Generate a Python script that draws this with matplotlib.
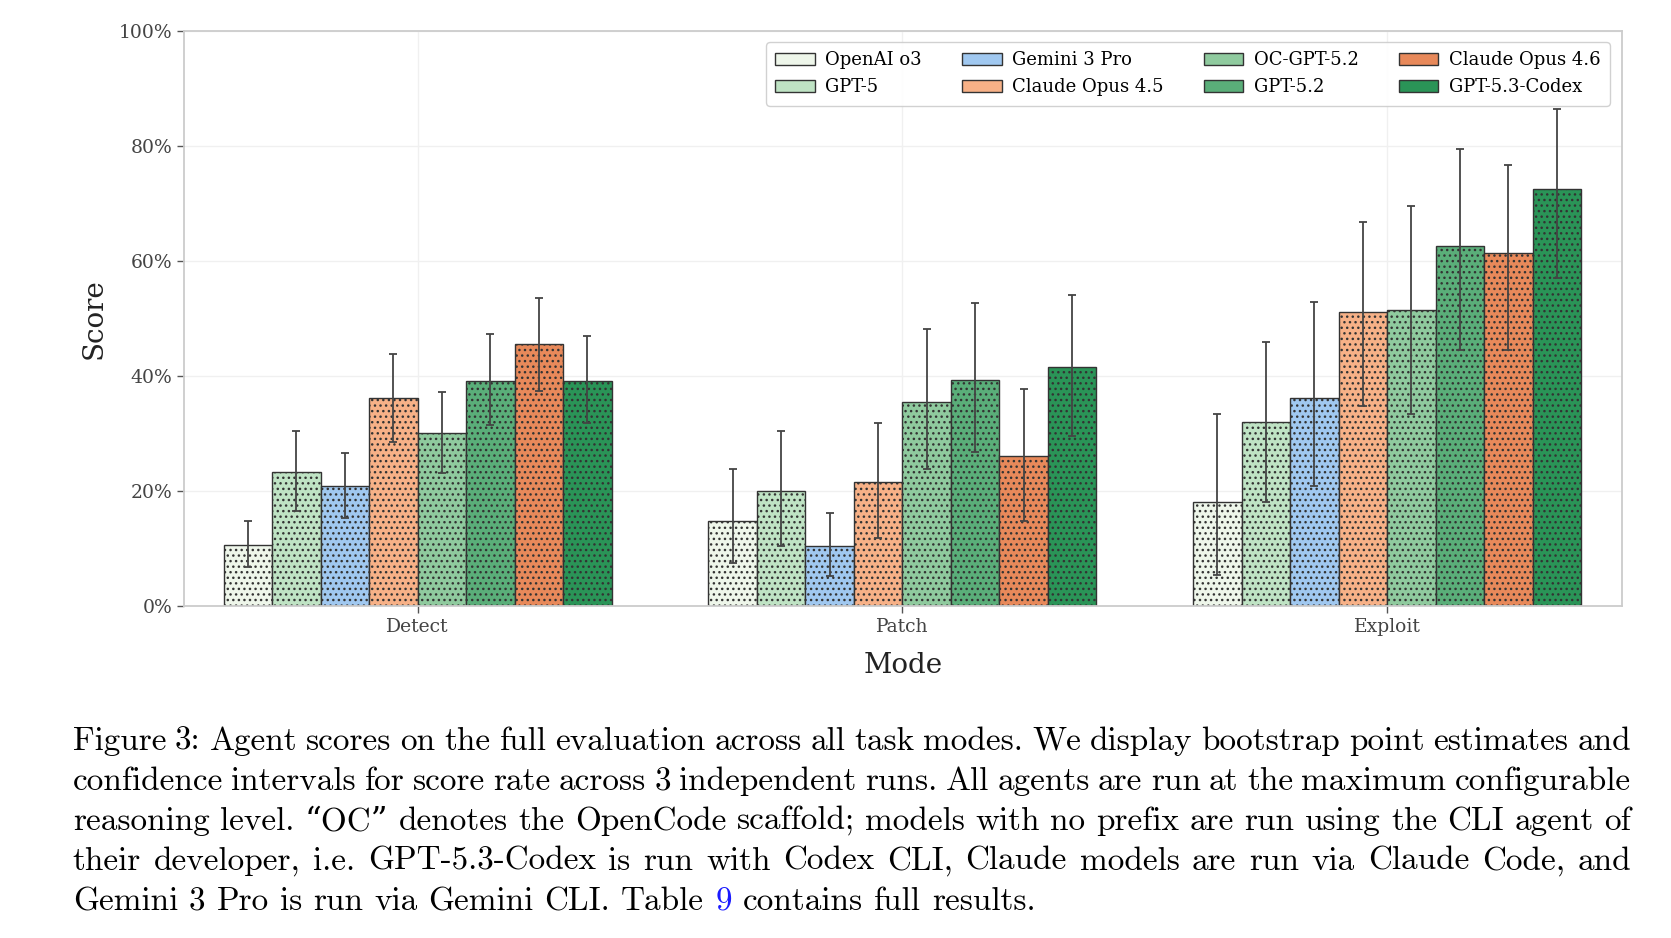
import matplotlib
matplotlib.use("Agg")
import matplotlib.pyplot as plt
import matplotlib.ticker as ticker
import numpy as np

modes = ["Detect", "Patch", "Exploit"]
models = ["OpenAI o3", "GPT-5", "Gemini 3 Pro", "Claude Opus 4.5",
          "OC-GPT-5.2", "GPT-5.2", "Claude Opus 4.6", "GPT-5.3-Codex"]

# bootstrap point estimates and CI bounds (%), one entry per model
detect_score = [10.5, 23.3, 20.8, 36.1, 30.0, 39.1, 45.5, 39.1]
detect_lo = [6.7, 16.5, 15.2, 28.5, 23.0, 31.4, 37.4, 31.7]
detect_hi = [14.7, 30.3, 26.6, 43.8, 37.2, 47.2, 53.6, 46.9]

patch_score = [14.8, 20.0, 10.3, 21.5, 35.5, 39.3, 26.0, 41.5]
patch_lo = [7.4, 10.3, 5.2, 11.8, 23.7, 26.7, 14.8, 29.6]
patch_hi = [23.7, 30.3, 16.2, 31.8, 48.1, 52.6, 37.7, 54.1]

exploit_score = [18.1, 31.9, 36.1, 51.0, 51.4, 62.6, 61.3, 72.5]
exploit_lo = [5.4, 18.0, 20.8, 34.8, 33.3, 44.5, 44.5, 57.0]
exploit_hi = [33.4, 45.9, 52.9, 66.8, 69.6, 79.4, 76.6, 86.4]

colors = ["#eef6ea", "#bfe3c4", "#a0c8f0", "#f7b187",
          "#8fca9e", "#5aae79", "#e8895a", "#2a9457"]

caption_lines = [
    "Figure 3: Agent scores on the full evaluation across all task modes. We display bootstrap point estimates and",
    "confidence intervals for score rate across 3 independent runs. All agents are run at the maximum configurable",
    "reasoning level. \u201cOC\u201d denotes the OpenCode scaffold; models with no prefix are run using the CLI agent of",
    "their developer, i.e. GPT-5.3-Codex is run with Codex CLI, Claude models are run via Claude Code, and",
    "Gemini 3 Pro is run via Gemini CLI. Table 9 contains full results.",
]

plt.rcParams['font.family'] = ['DejaVu Serif']
plt.rcParams['hatch.color'] = '#2b2b2b'
plt.rcParams['hatch.linewidth'] = 1.0

W, H = 1671, 938
fig = plt.figure(figsize=(W / 100, H / 100), dpi=100)
ax = fig.add_axes([184 / W, 1 - 605.7 / H, (1621.7 - 184) / W, (605.7 - 30.7) / H])

scores = np.array([detect_score, patch_score, exploit_score])
lows = np.array([detect_lo, patch_lo, exploit_lo])
highs = np.array([detect_hi, patch_hi, exploit_hi])

x = np.arange(len(modes))
width = 0.1
n = len(models)
for j, name in enumerate(models):
    pos = x + (j - (n - 1) / 2) * width
    s = scores[:, j]
    ax.bar(pos, s, width, color=colors[j], edgecolor='#333333', linewidth=1.0,
           hatch='...', label=name, zorder=2)
    ax.errorbar(pos, s, yerr=[s - lows[:, j], highs[:, j] - s], fmt='none',
                ecolor='#444444', elinewidth=1.3, capsize=2.6, capthick=1.3, zorder=3)

ax.set_xlim(-0.482, 2.484)
ax.set_ylim(0, 100)
ax.set_xticks(x)
ax.set_xticklabels(modes)
ax.yaxis.set_major_locator(ticker.MultipleLocator(20))
ax.yaxis.set_major_formatter(ticker.PercentFormatter(100, decimals=0))
ax.grid(True, color='#f0f0f0', linewidth=1.0, zorder=0)
ax.set_axisbelow(True)
for sp in ax.spines.values():
    sp.set_color('#cccccc')
    sp.set_linewidth(1.3)
ax.tick_params(axis='both', length=5, width=1.0, color='#555555',
               labelcolor='#444444', labelsize=13.5)

ax.set_xlabel("Mode", fontsize=20, color='#222222', labelpad=12)
ax.set_ylabel("Score", fontsize=20, color='#222222', labelpad=8)

leg = ax.legend(loc='upper right', ncol=4, fontsize=13, handlelength=2.2,
                handletextpad=0.6, columnspacing=2.2, labelspacing=0.5,
                borderpad=0.5, borderaxespad=0.65, fancybox=True,
                framealpha=0.9, edgecolor='#cccccc')
for h in leg.legend_handles:
    h.set_hatch(None)

# caption, justified word by word
cap_family = ['cmr10', 'DejaVu Serif']
cap_size = 23.9
left, right = 72.7, 1631.0
baseline0, step = 750, 40
renderer = fig.canvas.get_renderer()


def word_width(w):
    t = fig.text(0, 0, w, fontsize=cap_size, family=cap_family)
    wd = t.get_window_extent(renderer).width
    t.remove()
    return wd


space = word_width("a a") - word_width("aa")
for i, line in enumerate(caption_lines):
    words = line.split(" ")
    widths = [word_width(w) for w in words]
    if i < len(caption_lines) - 1:
        gap = (right - left - sum(widths)) / (len(words) - 1)
    else:
        gap = space
    xp = left
    yb = baseline0 + i * step
    for w, wd in zip(words, widths):
        c = '#1a1aff' if (w == "9" and i == 4) else 'black'
        fig.text(xp / W, 1 - yb / H, w, fontsize=cap_size, family=cap_family,
                 color=c, va='baseline', ha='left')
        xp += wd + gap

fig.savefig("out.png", dpi=100)
